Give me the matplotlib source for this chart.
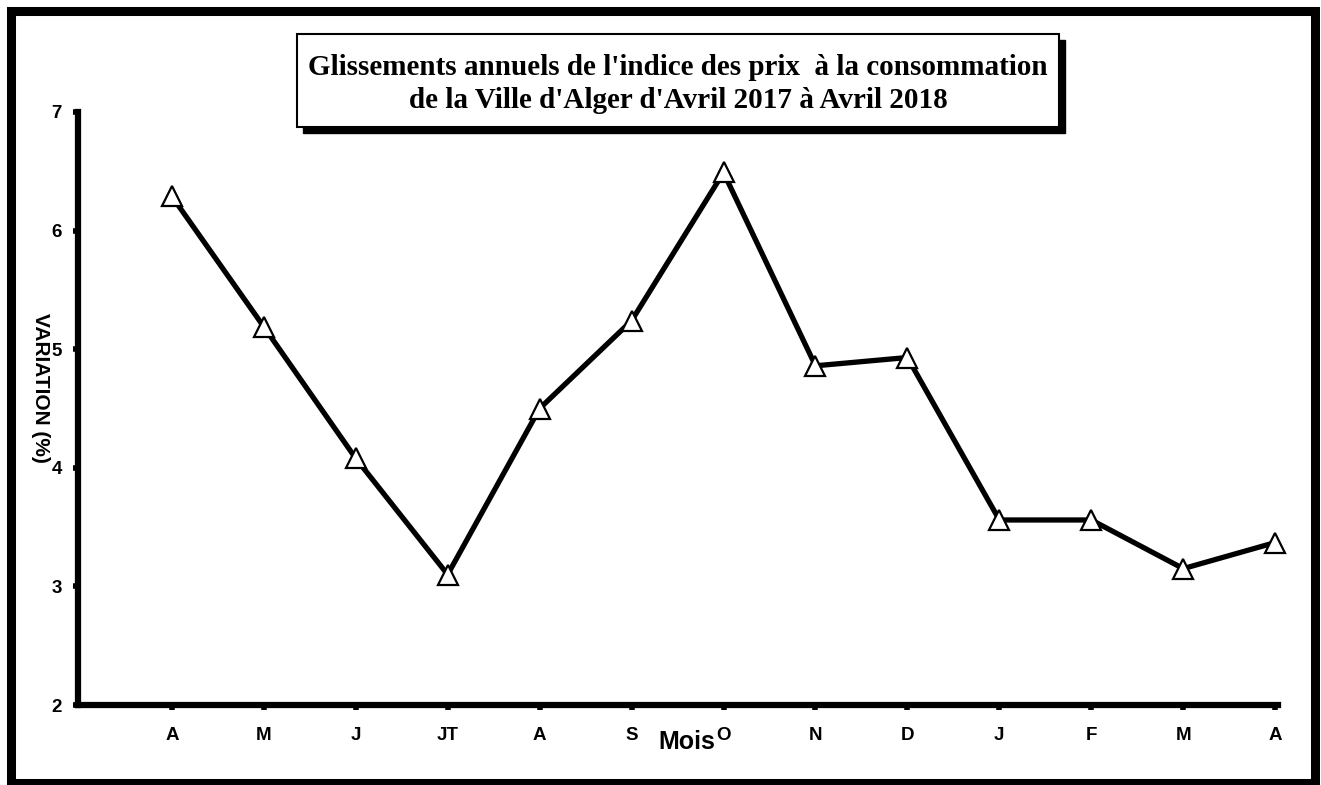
import matplotlib
matplotlib.use("Agg")
import matplotlib.pyplot as plt
from matplotlib.patches import Rectangle

# months from April 2017 to April 2018
mois = ['A', 'M', 'J', 'JT', 'A', 'S', 'O', 'N', 'D', 'J', 'F', 'M', 'A']
variation = [6.29, 5.19, 4.08, 3.10, 4.50, 5.24, 6.49, 4.86, 4.93, 3.56, 3.56, 3.15, 3.37]
y_ticks = [2, 3, 4, 5, 6, 7]

W, H = 1321, 785


def px(x, y):
    # pixel coords (top-left origin) -> figure fraction
    return x / W, 1 - y / H


def main():
    fig = plt.figure(figsize=(W / 100, H / 100), dpi=100)
    fig.patch.set_facecolor('white')

    x0, y0 = px(78, 705)
    x1, y1 = px(1278, 112)
    ax = fig.add_axes([x0, y0, x1 - x0, y1 - y0])

    xs = list(range(len(mois)))
    ax.plot(xs, variation, color='black', linewidth=3.8,
            marker='^', markersize=14, markerfacecolor='white',
            markeredgecolor='black', markeredgewidth=1.6, zorder=3,
            clip_on=False)

    ax.set_xlim(-1.02, 12.03)
    ax.set_ylim(2, 7)
    ax.set_xticks(xs)
    ax.set_xticklabels(mois)
    ax.set_yticks(y_ticks)

    for s in ['top', 'right']:
        ax.spines[s].set_visible(False)
    for s in ['left', 'bottom']:
        ax.spines[s].set_linewidth(4.5)
        ax.spines[s].set_capstyle('projecting')

    ax.tick_params(axis='x', length=3.5, width=4, pad=12, direction='out')
    ax.tick_params(axis='y', length=3.5, width=4, pad=8, direction='out')
    for lab in ax.get_xticklabels() + ax.get_yticklabels():
        lab.set_fontfamily('Liberation Sans')
        lab.set_fontweight('bold')
        lab.set_fontsize(13.5)

    # axis labels placed like the original
    fx, fy = px(687, 742)
    fig.text(fx, fy, 'Mois', ha='center', va='center', fontsize=18,
             fontweight='bold', family='Liberation Sans')
    fx, fy = px(40, 388)
    fig.text(fx, fy, 'VARIATION (%)', ha='center', va='center', fontsize=15,
             fontweight='bold', family='Liberation Sans', rotation=270)

    # title box with drop shadow
    bx0, by0 = px(297, 127)
    bw = (1059 - 297) / W
    bh = (127 - 34) / H
    sh_x, sh_y = 6 / W, 6 / H
    fig.patches.append(Rectangle((bx0 + sh_x, by0 - sh_y), bw, bh,
                                 transform=fig.transFigure, facecolor='black',
                                 edgecolor='black', zorder=1))
    fig.patches.append(Rectangle((bx0, by0), bw, bh, transform=fig.transFigure,
                                 facecolor='white', edgecolor='black',
                                 linewidth=1.5, zorder=2))
    fx, fy = px(678, 84)
    fig.text(fx, fy, "Glissements annuels de l'indice des prix  à la consommation\n"
             "de la Ville d'Alger d'Avril 2017 à Avril 2018",
             ha='center', va='center', fontsize=21, fontweight='bold',
             family='Liberation Serif', linespacing=1.28, zorder=3)

    # outer frame
    fx, fy = px(10.5, 783)
    fig.patches.append(Rectangle((fx, fy), (1314.5 - 10.5) / W, (783 - 11) / H,
                                 transform=fig.transFigure, fill=False,
                                 edgecolor='black', linewidth=6.5, zorder=5))

    fig.savefig('out.png', dpi=100)


if __name__ == '__main__':
    main()
